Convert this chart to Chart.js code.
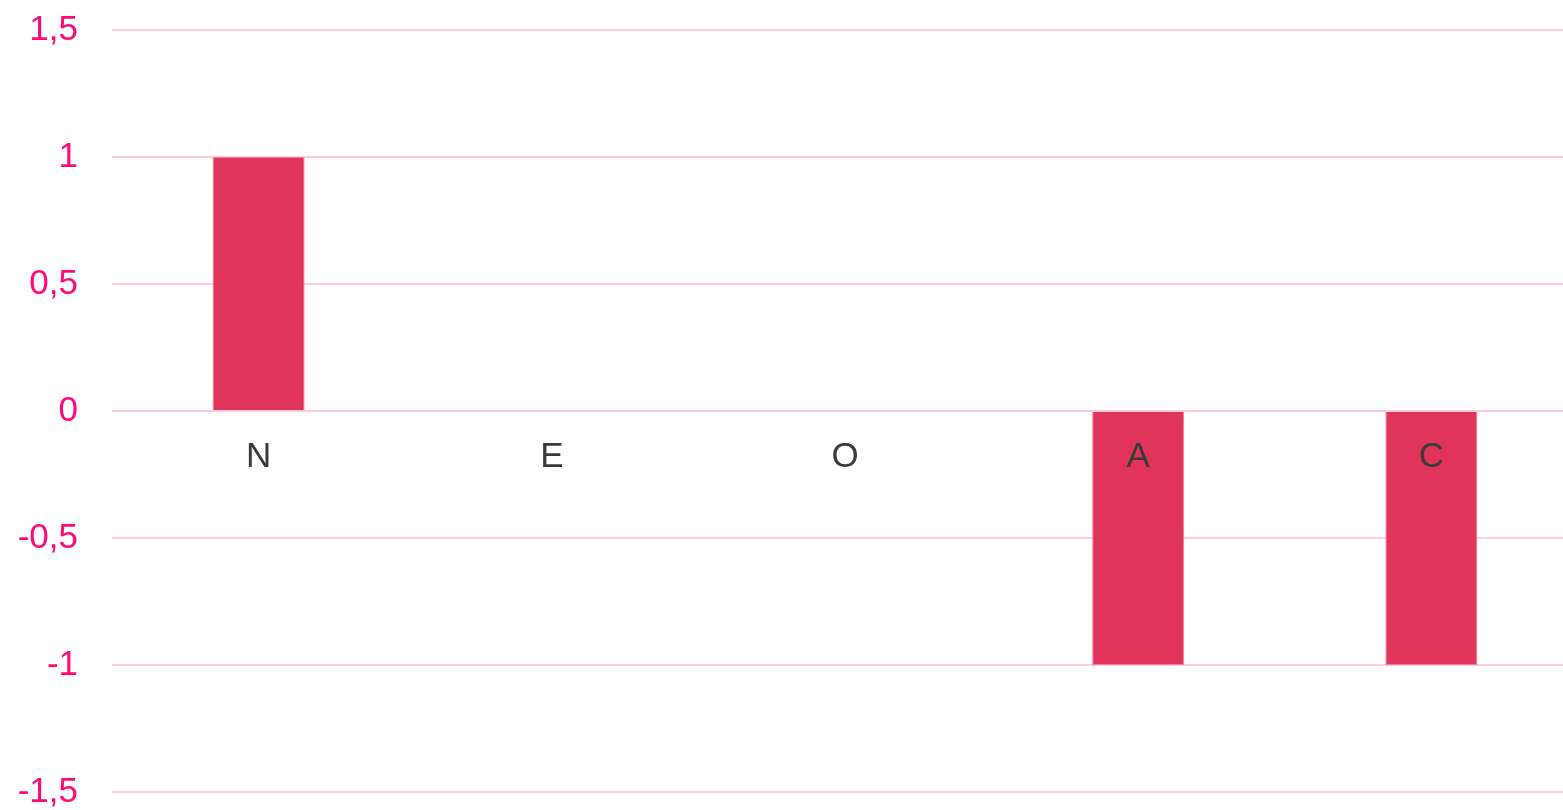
<!DOCTYPE html>
<html>
<head>
<meta charset="utf-8">
<script src="https://cdn.jsdelivr.net/npm/chart.js@4/dist/chart.umd.min.js"></script>
<style>
  html, body { margin: 0; padding: 0; background: #fff; overflow: hidden; }
  /* the plot runs a little past the right edge of the window, as in the original */
  .chart { width: 1578px; height: 810px; }
</style>
</head>
<body>
<div class="chart"><canvas id="chart"></canvas></div>
<script>
const categories = ['N', 'E', 'O', 'A', 'C'];
const scores = [1, 0, 0, -1, -1];
const yTicks = [-1.5, -1, -0.5, 0, 0.5, 1, 1.5];

const ctx = document.getElementById('chart').getContext('2d');
new Chart(ctx, {
    type: 'bar',
    data: {
        labels: categories,
        datasets: [
            {
                label: 'Score',
                data: scores,
                backgroundColor: '#e0345a',
                borderColor: '#f3809a',
                borderWidth: 1,
                barPercentage: 0.4,
                categoryPercentage: 0.785,
            },
        ],
    },
    options: {
        responsive: true,
        maintainAspectRatio: false,
        animation: false,
        layout: { padding: { top: 30, bottom: 18, right: 0, left: 0 } },
        plugins: {
            legend: { display: false },
            tooltip: { enabled: false },
        },
        scales: {
            x: {
                position: { y: 0 },
                afterFit: (scale) => {
                    scale.height = 0;
                    scale.paddingLeft = 0;
                    scale.paddingRight = 0;
                },
                grid: { display: false, drawTicks: false },
                border: { display: false },
                ticks: {
                    z: 1, // labels on top of bars
                    color: '#3a3a3a',
                    padding: 25,
                    font: { family: 'Liberation Sans', size: 35 },
                },
            },
            y: {
                min: -1.5,
                max: 1.5,
                afterBuildTicks: (scale) => {
                    scale.ticks = yTicks.map((v) => ({ value: v }));
                },
                afterFit: (scale) => {
                    scale.width = 112;
                    scale.paddingTop = 0;
                    scale.paddingBottom = 0;
                },
                grid: { color: '#ffcce2', lineWidth: 2, drawTicks: false },
                border: { display: false },
                ticks: {
                    color: '#ff0a78',
                    padding: 34,
                    font: { family: 'Liberation Sans', size: 35 },
                    callback: (v) => String(v).replace('.', ','),
                },
            },
        },
    },
});
</script>
</body>
</html>
